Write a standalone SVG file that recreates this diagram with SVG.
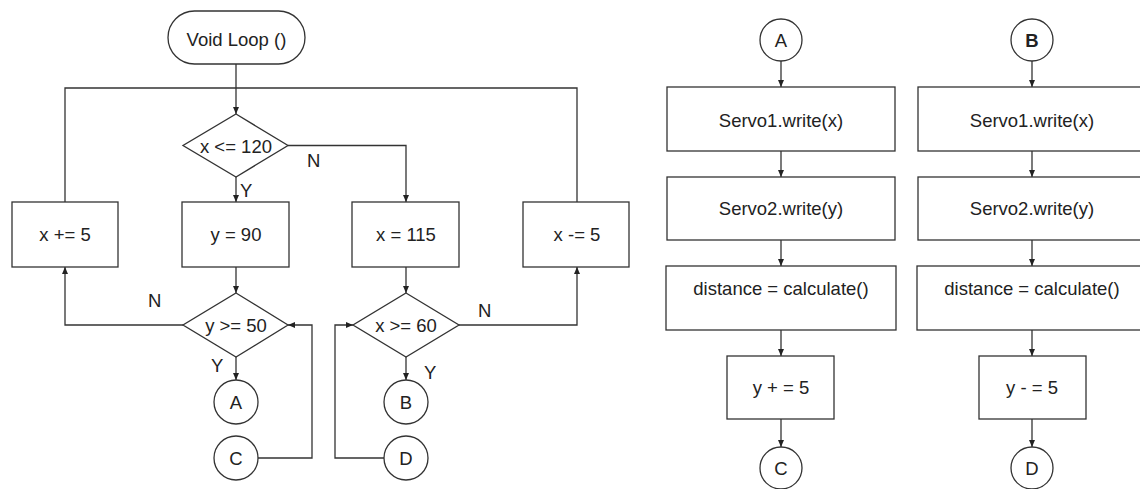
<svg xmlns="http://www.w3.org/2000/svg" width="1140" height="489" viewBox="0 0 1140 489">
<defs>
<marker id="arr" markerUnits="userSpaceOnUse" markerWidth="8" markerHeight="8" refX="7" refY="3" orient="auto">
<path d="M0,0 L7,3 L0,6 z" fill="#222"/>
</marker>
<style>
.s{fill:#fff;stroke:#333;stroke-width:1.3}
.c{fill:none;stroke:#333;stroke-width:1.3}
.t{font-family:"Liberation Sans",Arial,sans-serif;font-size:18.5px;fill:#222;text-anchor:middle}
.l{font-family:"Liberation Sans",Arial,sans-serif;font-size:18.5px;fill:#222}
</style>
</defs>
<rect width="1140" height="489" fill="#fff"/>
<g id="connectors">
<path class="c" d="M236,64 V114" marker-end="url(#arr)"/>
<path class="c" d="M65,202 V88 H577 V203"/>
<path class="c" d="M288,145.5 H406 V202" marker-end="url(#arr)"/>
<path class="c" d="M236,177 V202" marker-end="url(#arr)"/>
<path class="c" d="M236,267 V293" marker-end="url(#arr)"/>
<path class="c" d="M406,267 V293" marker-end="url(#arr)"/>
<path class="c" d="M183,325 H65 V267" marker-end="url(#arr)"/>
<path class="c" d="M236,357 V380" marker-end="url(#arr)"/>
<path class="c" d="M258,458 H312 V325 H288" marker-end="url(#arr)"/>
<path class="c" d="M406,357 V380" marker-end="url(#arr)"/>
<path class="c" d="M384,458 H335 V325 H353" marker-end="url(#arr)"/>
<path class="c" d="M459,325 H577 V267" marker-end="url(#arr)"/>
<path class="c" d="M781,61 V87" marker-end="url(#arr)"/>
<path class="c" d="M781,151 V177" marker-end="url(#arr)"/>
<path class="c" d="M781,240 V266" marker-end="url(#arr)"/>
<path class="c" d="M781,330 V356" marker-end="url(#arr)"/>
<path class="c" d="M781,419 V447" marker-end="url(#arr)"/>
<path class="c" d="M1032,61 V87" marker-end="url(#arr)"/>
<path class="c" d="M1032,151 V177" marker-end="url(#arr)"/>
<path class="c" d="M1032,240 V266" marker-end="url(#arr)"/>
<path class="c" d="M1032,330 V356" marker-end="url(#arr)"/>
<path class="c" d="M1032,419 V447" marker-end="url(#arr)"/>
<text class="l" x="307" y="167">N</text>
<text class="l" x="240" y="197">Y</text>
<text class="l" x="148" y="307">N</text>
<text class="l" x="211" y="372">Y</text>
<text class="l" x="424" y="379">Y</text>
<text class="l" x="478" y="317">N</text>
</g>
<g id="start"><rect class="s" x="168" y="11" width="137" height="53" rx="26.5"/><text class="t" x="236.5" y="46">Void Loop ()</text></g>
<g id="d1"><polygon class="s" points="236,114 288,145.5 236,177 183,145.5"/><text class="t" x="236" y="153">x &lt;= 120</text></g>
<g id="b1"><rect class="s" x="12" y="202" width="106" height="65"/><text class="t" x="65" y="241">x += 5</text></g>
<g id="b2"><rect class="s" x="182" y="202" width="107" height="65"/><text class="t" x="236" y="241">y = 90</text></g>
<g id="b3"><rect class="s" x="352" y="202" width="107" height="65"/><text class="t" x="406" y="241">x = 115</text></g>
<g id="b4"><rect class="s" x="523" y="202" width="106" height="65"/><text class="t" x="577" y="241">x -= 5</text></g>
<g id="d2"><polygon class="s" points="236,293 288,325 236,357 183,325"/><text class="t" x="236" y="332">y &gt;= 50</text></g>
<g id="d3"><polygon class="s" points="406,293 459,325 406,357 353,325"/><text class="t" x="406" y="332">x &gt;= 60</text></g>
<g id="cA"><circle class="s" cx="236" cy="402" r="22"/><text class="t" x="236" y="409">A</text></g>
<g id="cC"><circle class="s" cx="236" cy="458" r="22"/><text class="t" x="236" y="465">C</text></g>
<g id="cB"><circle class="s" cx="406" cy="402" r="22"/><text class="t" x="406" y="409">B</text></g>
<g id="cD"><circle class="s" cx="406" cy="458" r="22"/><text class="t" x="406" y="465">D</text></g>
<g id="rA"><circle class="s" cx="781" cy="40" r="21"/><text class="t" x="781" y="47">A</text></g>
<g id="rA1"><rect class="s" x="667" y="87" width="228" height="64"/><text class="t" x="781" y="127">Servo1.write(x)</text></g>
<g id="rA2"><rect class="s" x="667" y="177" width="228" height="63"/><text class="t" x="781" y="215">Servo2.write(y)</text></g>
<g id="rA3"><rect class="s" x="666" y="266" width="230" height="64"/><text class="t" x="781" y="295">distance = calculate()</text></g>
<g id="rA4"><rect class="s" x="727" y="356" width="107" height="63"/><text class="t" x="781" y="394">y + = 5</text></g>
<g id="rC"><circle class="s" cx="781" cy="468" r="21"/><text class="t" x="781" y="475">C</text></g>
<g id="rB"><circle class="s" cx="1032" cy="40" r="21"/><text class="t" x="1032" y="47" font-weight="bold">B</text></g>
<g id="rB1"><rect class="s" x="918" y="87" width="228" height="64"/><text class="t" x="1032" y="127">Servo1.write(x)</text></g>
<g id="rB2"><rect class="s" x="918" y="177" width="228" height="63"/><text class="t" x="1032" y="215">Servo2.write(y)</text></g>
<g id="rB3"><rect class="s" x="917" y="266" width="230" height="64"/><text class="t" x="1032" y="295">distance = calculate()</text></g>
<g id="rB4"><rect class="s" x="979" y="356" width="107" height="63"/><text class="t" x="1032" y="394">y - = 5</text></g>
<g id="rD"><circle class="s" cx="1032" cy="468" r="21"/><text class="t" x="1032" y="475">D</text></g>
</svg>
